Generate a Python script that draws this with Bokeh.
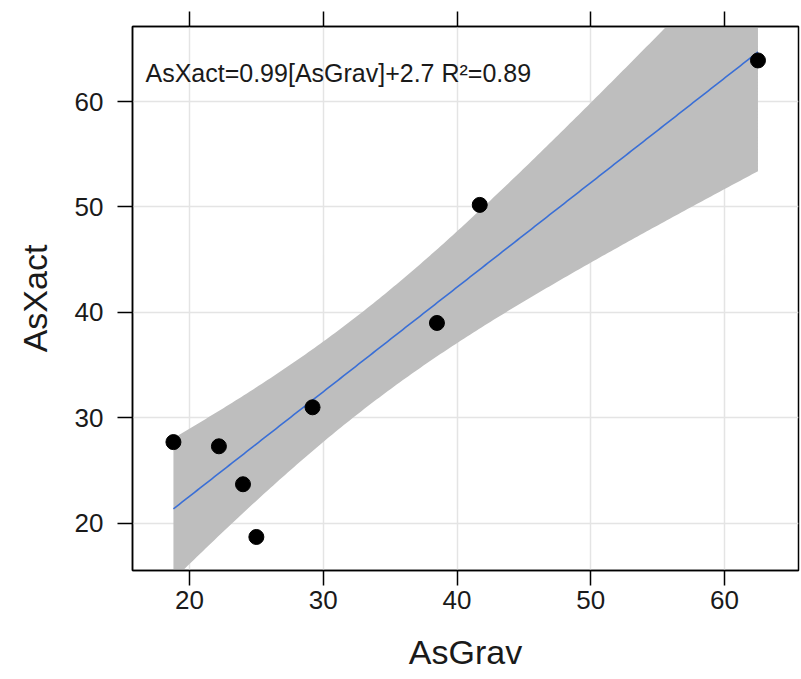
import numpy as np
from bokeh.plotting import figure
from bokeh.models import LinearAxis, FixedTicker, Range1d, Label
from bokeh.embed import file_html
from bokeh.resources import INLINE

# ---- data ----
as_grav = [18.8, 22.2, 24.0, 25.0, 29.2, 38.5, 41.7, 62.5]
as_xact = [27.7, 27.3, 23.7, 18.7, 31.0, 39.0, 50.2, 63.9]
x_ticks = [20, 30, 40, 50, 60]
y_ticks = [20, 30, 40, 50, 60]
x_label = "AsGrav"
y_label = "AsXact"
annotation = "AsXact=0.99[AsGrav]+2.7 R²=0.89"

# ---- linear fit with 95% confidence band (as in the original smoother) ----
x = np.array(as_grav, dtype=float)
y = np.array(as_xact, dtype=float)
n = len(x)
slope, intercept = np.polyfit(x, y, 1)
resid = y - (slope * x + intercept)
s = np.sqrt(np.sum(resid ** 2) / (n - 2))
t_crit = 2.446912  # t(0.975, df=6)
xs = np.linspace(x.min(), x.max(), 200)
fit = slope * xs + intercept
sxx = np.sum((x - x.mean()) ** 2)
half = t_crit * s * np.sqrt(1.0 / n + (xs - x.mean()) ** 2 / sxx)

FONT = "Liberation Sans"

p = figure(
    frame_width=666, frame_height=544,
    x_range=Range1d(15.74, 65.53), y_range=Range1d(15.52, 67.12),
    output_backend="svg", toolbar_location=None,
    min_border_left=132, min_border_top=26, min_border_bottom=109, min_border_right=3,
)
p.background_fill_color = "white"
p.border_fill_color = "white"
p.outline_line_color = "black"
p.outline_line_width = 1.5
p.outline_line_alpha = 1.0

# grid
p.xgrid.ticker = FixedTicker(ticks=x_ticks)
p.ygrid.ticker = FixedTicker(ticks=y_ticks)
p.xgrid.grid_line_color = "#e4e4e4"
p.ygrid.grid_line_color = "#e4e4e4"
p.xgrid.grid_line_width = 1.5
p.ygrid.grid_line_width = 1.5

def style_axis(ax, ticks):
    ax.ticker = FixedTicker(ticks=ticks)
    ax.major_tick_out = 15
    ax.major_tick_in = 0
    ax.minor_tick_out = 0
    ax.minor_tick_in = 0
    ax.major_tick_line_color = "black"
    ax.major_tick_line_width = 1.5
    ax.axis_line_color = "black"
    ax.axis_line_width = 1.5
    ax.major_label_text_font = FONT
    ax.major_label_text_color = "#1a1a1a"
    ax.major_label_text_font_size = "26px"
    ax.axis_label_text_font = FONT
    ax.axis_label_text_font_style = "normal"
    ax.axis_label_text_color = "#1a1a1a"
    ax.axis_label_text_font_size = "34px"

style_axis(p.xaxis[0], x_ticks)
p.xaxis[0].axis_label = x_label
p.xaxis[0].major_label_standoff = 5
p.xaxis[0].axis_label_standoff = 21

style_axis(p.yaxis[0], y_ticks)
p.yaxis[0].axis_label = y_label
p.yaxis[0].major_label_standoff = 14
p.yaxis[0].axis_label_standoff = 18

# top axis: ticks only
top = LinearAxis(major_label_overrides={t: "" for t in x_ticks})
style_axis(top, x_ticks)
top.major_label_standoff = 0
p.add_layout(top, "above")

# confidence band, fit line, points
p.varea(x=xs, y1=fit - half, y2=fit + half, fill_color="#bebebe", fill_alpha=1.0)
p.line(xs, fit, line_color="#3a6fd6", line_width=1.6)
p.scatter(x, y, size=15, fill_color="black", line_color="black")

lab = Label(x=16.71, y=62.73, text=annotation, text_font=FONT, text_font_size="25px",
            text_color="#1a1a1a", text_baseline="alphabetic", text_align="left")
p.add_layout(lab)

open("out.html", "w").write(file_html(p, INLINE))
